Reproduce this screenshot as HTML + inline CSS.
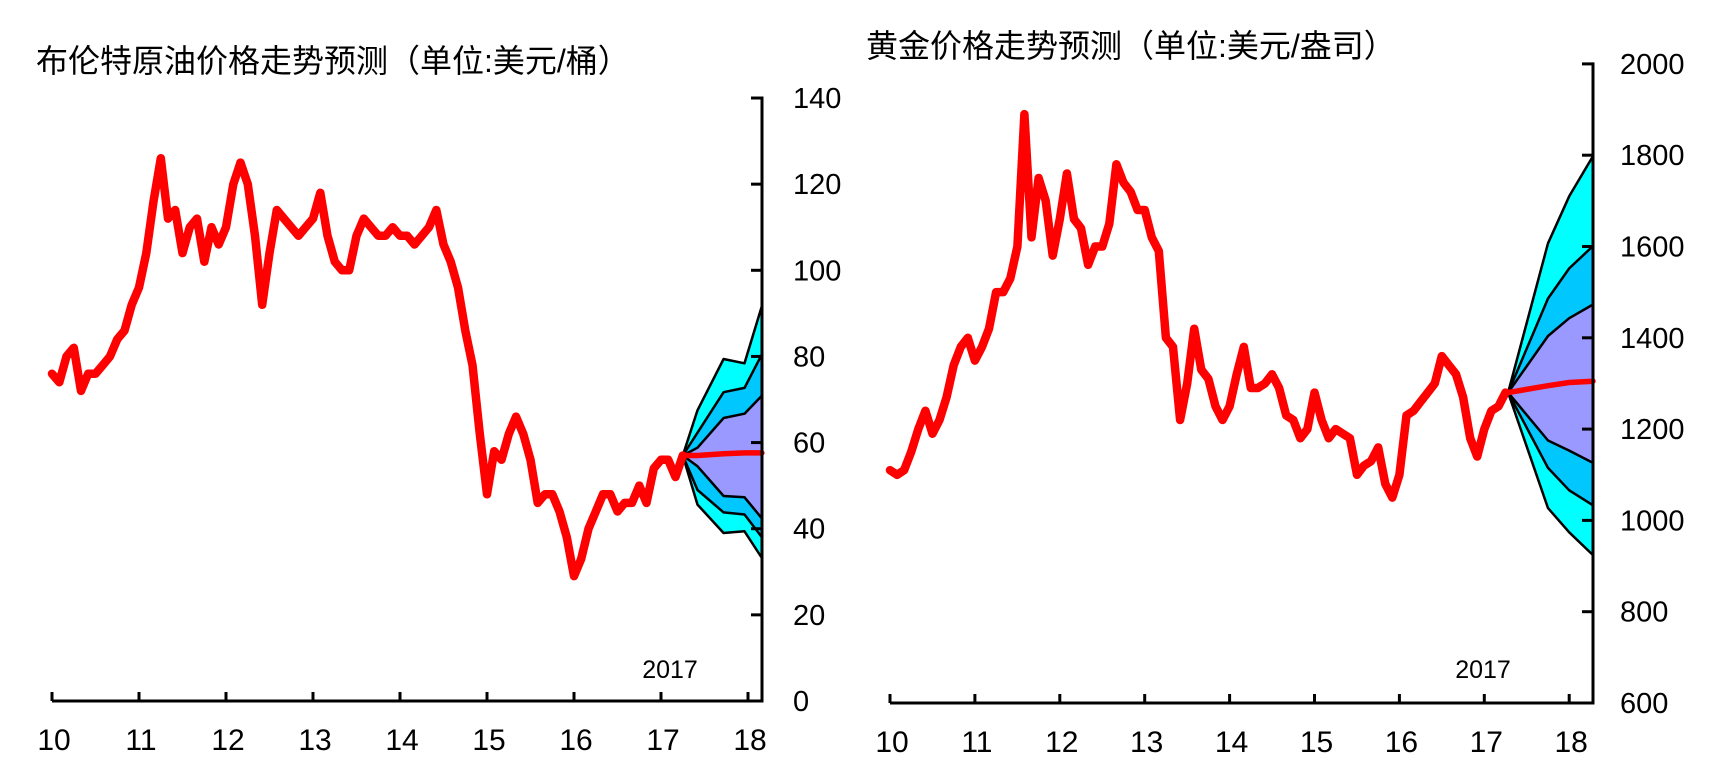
<!DOCTYPE html>
<html><head><meta charset="utf-8">
<style>
html,body{margin:0;padding:0;background:#fff;}
svg{display:block;}
text{font-family:"Liberation Sans","Noto Sans CJK SC",sans-serif;fill:#000;}
</style></head>
<body>
<svg id="chart" width="1736" height="780" viewBox="0 0 1736 780">
<text x="36" y="72" font-size="32">布伦特原油价格走势预测（单位:美元/桶）</text>
<text x="866" y="57" font-size="32">黄金价格走势预测（单位:美元/盎司）</text>
</svg>
<script>
// ---------- data ----------
const yearTicks = [10,11,12,13,14,15,16,17,18];
const oilYTicks = [0,20,40,60,80,100,120,140];
const goldYTicks = [600,800,1000,1200,1400,1600,1800,2000];
const oilPrices = [76,74,80,82,72,76,76,78,80,84,86,92,
 96,104,116,126,112,114,104,110,112,102,110,106,
 110,120,125,120,108,92,104,114,112,110,108,110,
 112,118,108,102,100,100,108,112,110,108,108,110,
 108,108,106,108,110,114,106,102,96,86,78,62,
 48,58,56,62,66,62,56,46,48,48,44,38,
 29,33,40,44,48,48,44,46,46,50,46,54,
 56,56,52,57];
const goldPrices = [1110,1100,1110,1150,1200,1240,1190,1220,1270,1340,1380,1400,
 1350,1380,1420,1500,1500,1530,1600,1890,1620,1750,1700,1580,
 1660,1760,1660,1640,1560,1600,1600,1650,1780,1740,1720,1680,
 1680,1620,1590,1400,1380,1220,1300,1420,1330,1310,1250,1220,
 1250,1320,1380,1290,1290,1300,1320,1290,1230,1220,1180,1200,
 1280,1220,1180,1200,1190,1180,1100,1120,1130,1160,1080,1050,
 1100,1230,1240,1260,1280,1300,1360,1340,1320,1270,1180,1140,
 1200,1240,1250,1280];
const oilFanT = [17.25,17.42,17.72,17.96,18.16];
const oilUp3 = [57,67.5,79.4,78.4,91.7];
const oilUp2 = [57,62.3,71.7,72.7,80.5];
const oilUp1 = [57,58.8,65.7,66.7,70.9];
const oilMid = [57,57,57.4,57.6,57.6];
const oilLo1 = [57,54.5,47.6,47.3,42.4];
const oilLo2 = [57,49,43.8,43.3,38];
const oilLo3 = [57,45.6,39,39.4,33.2];
const goldFanT = [17.28,17.75,18.0,18.28];
const goldUp3 = [1280,1607,1710,1798];
const goldUp2 = [1280,1486,1552,1601];
const goldUp1 = [1280,1404,1443,1473];
const goldMid = [1280,1295,1302,1305];
const goldLo1 = [1280,1175,1153,1126];
const goldLo2 = [1280,1115,1066,1033];
const goldLo3 = [1280,1027,974,924];

const NS = "http://www.w3.org/2000/svg";
const svg = document.getElementById('chart');
function mk(tag, attrs, parent){
  const e = document.createElementNS(NS, tag);
  for (const k in attrs) e.setAttribute(k, attrs[k]);
  (parent||svg).appendChild(e);
  return e;
}
function pts(ts, vs, X, Y){ return ts.map((t,i)=>X(t).toFixed(1)+','+Y(vs[i]).toFixed(1)); }

function drawChart(cfg){
  const g = mk('g', {});
  
  
  const X = t => cfg.x0 + (t-10)*cfg.xs;
  const Y = v => cfg.y0 - (v-cfg.vmin)*cfg.ys;
  const bands = [[cfg.up3,cfg.lo3,'#00FFFF','outer-band'],[cfg.up2,cfg.lo2,'#00C8FF','middle-band'],[cfg.up1,cfg.lo1,'#9999FF','inner-band']];
  bands.forEach(b=>{
    const p = pts(cfg.fanT,b[0],X,Y).concat(pts(cfg.fanT,b[1],X,Y).reverse());
    const poly = mk('polygon', {points:p.join(' '), fill:b[2], stroke:'none'}, g);
    
    
  });
  [cfg.up3,cfg.up2,cfg.up1,cfg.lo1,cfg.lo2,cfg.lo3].forEach(s=>{
    const l = mk('polyline', {points:pts(cfg.fanT,s,X,Y).join(' '), fill:'none', stroke:'#000', 'stroke-width':2.5, 'stroke-linejoin':'round'}, g);
    
    
  });
  const ts = cfg.prices.map((v,i)=>10+i/12);
  const hl = mk('polyline', {points:pts(ts,cfg.prices,X,Y).join(' '), fill:'none', stroke:'#FF0000', 'stroke-width':8.5, 'stroke-linejoin':'round', 'stroke-linecap':'round'}, g);
  
  
  const ml = mk('polyline', {points:pts(cfg.fanT,cfg.mid,X,Y).join(' '), fill:'none', stroke:'#FF0000', 'stroke-width':5.5, 'stroke-linecap':'round'}, g);
  
  
  const ax = cfg.axisX, ay = cfg.y0;
  const xa = mk('line', {x1:X(10), y1:ay, x2:ax, y2:ay, stroke:'#000', 'stroke-width':3}, g);
  
  
  const ya = mk('line', {x1:ax, y1:Y(cfg.yTicks[cfg.yTicks.length-1])-1.5, x2:ax, y2:ay+1.5, stroke:'#000', 'stroke-width':3}, g);
  
  
  cfg.yTicks.forEach(v=>{
    const tk = mk('line', {x1:ax-11, y1:Y(v), x2:ax, y2:Y(v), stroke:'#000', 'stroke-width':3}, g);
    
    
    const tx = mk('text', {x:cfg.labelX, y:Y(v)+10, 'font-size':29}, g);
    tx.textContent = String(v);
    
    
  });
  yearTicks.forEach(t=>{
    const tk = mk('line', {x1:X(t), y1:ay-9, x2:X(t), y2:ay, stroke:'#000', 'stroke-width':3}, g);
    
    
    const tx = mk('text', {x:X(t)+2, y:ay+49, 'font-size':30, 'text-anchor':'middle'}, g);
    tx.textContent = String(t);
    
    
  });
  const yr = mk('text', {x:cfg.yrX, y:678, 'font-size':25, 'text-anchor':'middle'}, g);
  yr.textContent = '2017';
  
  
}

drawChart({name:'oil-chart', x0:52, xs:87, y0:701, vmin:0, ys:4.307, axisX:762, labelX:793, yrX:670,
  yTicks:oilYTicks, prices:oilPrices, fanT:oilFanT, up3:oilUp3, up2:oilUp2, up1:oilUp1, mid:oilMid, lo1:oilLo1, lo2:oilLo2, lo3:oilLo3});
drawChart({name:'gold-chart', x0:890, xs:84.9, y0:703, vmin:600, ys:0.4565, axisX:1593, labelX:1620, yrX:1483,
  yTicks:goldYTicks, prices:goldPrices, fanT:goldFanT, up3:goldUp3, up2:goldUp2, up1:goldUp1, mid:goldMid, lo1:goldLo1, lo2:goldLo2, lo3:goldLo3});
</script>
</body></html>
